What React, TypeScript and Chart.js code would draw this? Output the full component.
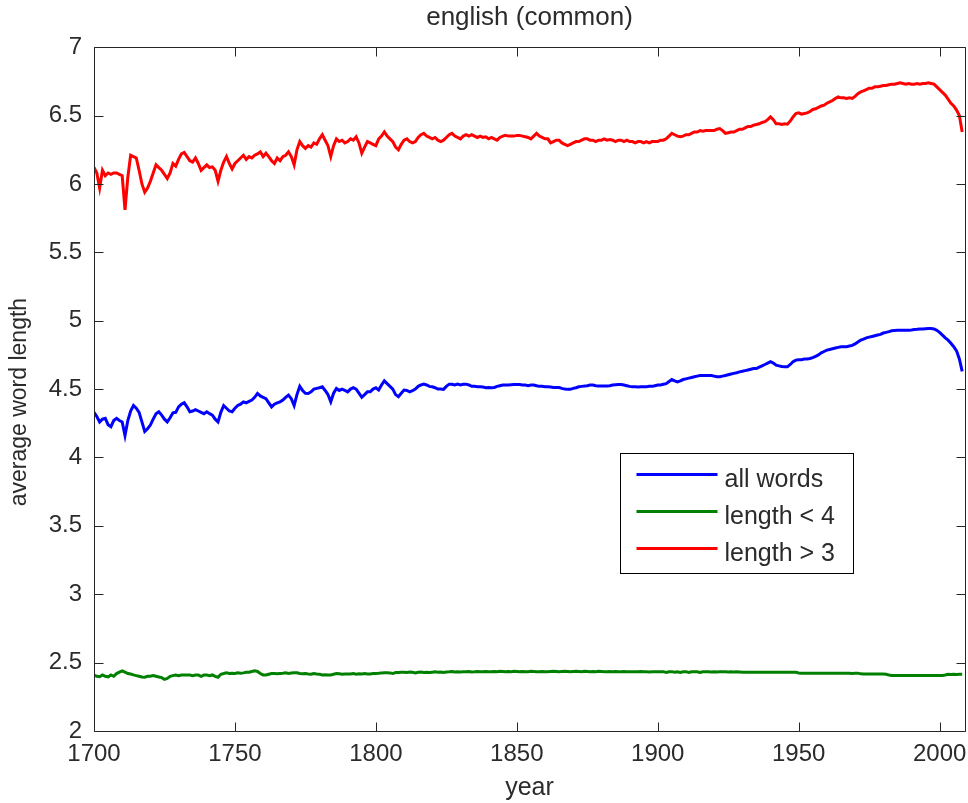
import React, { useEffect, useRef } from "react";
import { Chart, registerables } from "chart.js";

Chart.register(...registerables);

const FIRST_YEAR = 1700;

// average word length, all words (1700..2008)
const ALL_WORDS = [
  4.33, 4.30, 4.26, 4.28, 4.286, 4.24, 4.225, 4.27, 4.286, 4.27,
  4.26, 4.16, 4.27, 4.34, 4.38, 4.36, 4.33, 4.26, 4.19, 4.21,
  4.237, 4.28, 4.32, 4.334, 4.31, 4.28, 4.26, 4.29, 4.327, 4.33,
  4.37, 4.39, 4.40, 4.37, 4.334, 4.34, 4.35, 4.34, 4.33, 4.32,
  4.334, 4.32, 4.31, 4.28, 4.26, 4.33, 4.38, 4.36, 4.34, 4.334,
  4.36, 4.38, 4.39, 4.407, 4.40, 4.41, 4.42, 4.44, 4.468, 4.45,
  4.44, 4.43, 4.40, 4.37, 4.39, 4.40, 4.407, 4.42, 4.44, 4.456,
  4.43, 4.38, 4.46, 4.52, 4.49, 4.47, 4.468, 4.48, 4.50, 4.505,
  4.51, 4.517, 4.49, 4.46, 4.407, 4.47, 4.505, 4.49, 4.50, 4.49,
  4.48, 4.50, 4.51, 4.50, 4.47, 4.44, 4.46, 4.48, 4.48, 4.50,
  4.51, 4.493, 4.53, 4.56, 4.54, 4.52, 4.50, 4.46, 4.444, 4.47,
  4.493, 4.49, 4.48, 4.488, 4.50, 4.52, 4.53, 4.536, 4.53, 4.52,
  4.517, 4.51, 4.50, 4.50, 4.498, 4.52, 4.536, 4.535, 4.53, 4.536,
  4.53, 4.535, 4.536, 4.53, 4.52, 4.52, 4.517, 4.517, 4.515, 4.51,
  4.512, 4.51, 4.512, 4.52, 4.525, 4.53, 4.53, 4.53, 4.532, 4.533,
  4.534, 4.534, 4.53, 4.53, 4.525, 4.53, 4.53, 4.525, 4.52, 4.52,
  4.517, 4.517, 4.515, 4.512, 4.512, 4.512, 4.505, 4.50, 4.498, 4.498,
  4.505, 4.51, 4.517, 4.52, 4.522, 4.525, 4.53, 4.53, 4.525, 4.522,
  4.522, 4.522, 4.522, 4.525, 4.53, 4.532, 4.534, 4.534, 4.53, 4.525,
  4.52, 4.517, 4.517, 4.515, 4.517, 4.517, 4.517, 4.52, 4.52, 4.525,
  4.53, 4.53, 4.535, 4.54, 4.555, 4.57, 4.56, 4.553, 4.56, 4.57,
  4.575, 4.58, 4.585, 4.59, 4.595, 4.60, 4.60, 4.60, 4.60, 4.60,
  4.595, 4.59, 4.59, 4.595, 4.60, 4.605, 4.61, 4.615, 4.62, 4.626,
  4.63, 4.635, 4.64, 4.645, 4.65, 4.65, 4.66, 4.67, 4.68, 4.69,
  4.70, 4.69, 4.675, 4.67, 4.665, 4.663, 4.663, 4.68, 4.70, 4.712,
  4.715, 4.715, 4.72, 4.72, 4.724, 4.73, 4.74, 4.75, 4.765, 4.775,
  4.785, 4.79, 4.795, 4.80, 4.805, 4.81, 4.81, 4.81, 4.815, 4.82,
  4.83, 4.845, 4.858, 4.865, 4.875, 4.88, 4.885, 4.89, 4.895, 4.90,
  4.91, 4.915, 4.92, 4.926, 4.928, 4.93, 4.93, 4.93, 4.93, 4.93,
  4.932, 4.935, 4.937, 4.94, 4.94, 4.942, 4.943, 4.943, 4.94, 4.93,
  4.915, 4.895, 4.875, 4.858, 4.835, 4.81, 4.78, 4.72, 4.63,
];

// average word length, words shorter than 4 letters
const SHORT_WORDS = [
  2.409, 2.40, 2.397, 2.41, 2.40, 2.395, 2.41, 2.40, 2.42, 2.43,
  2.44, 2.43, 2.42, 2.417, 2.41, 2.405, 2.40, 2.395, 2.393, 2.40,
  2.40, 2.405, 2.40, 2.395, 2.39, 2.378, 2.385, 2.40, 2.405, 2.409,
  2.405, 2.41, 2.409, 2.41, 2.409, 2.405, 2.41, 2.409, 2.40, 2.409,
  2.409, 2.405, 2.41, 2.40, 2.393, 2.415, 2.42, 2.426, 2.42, 2.422,
  2.42, 2.425, 2.422, 2.425, 2.43, 2.43, 2.435, 2.44, 2.435, 2.42,
  2.41, 2.409, 2.415, 2.42, 2.42, 2.418, 2.42, 2.422, 2.425, 2.42,
  2.424, 2.426, 2.426, 2.42, 2.418, 2.42, 2.417, 2.415, 2.42, 2.417,
  2.415, 2.41, 2.412, 2.41, 2.409, 2.415, 2.42, 2.418, 2.415, 2.417,
  2.417, 2.417, 2.42, 2.415, 2.418, 2.417, 2.42, 2.417, 2.417, 2.42,
  2.42, 2.422, 2.425, 2.426, 2.426, 2.425, 2.42, 2.427, 2.428, 2.43,
  2.43, 2.428, 2.432, 2.43, 2.425, 2.43, 2.432, 2.428, 2.43, 2.427,
  2.43, 2.433, 2.43, 2.432, 2.428, 2.432, 2.433, 2.435, 2.432, 2.433,
  2.432, 2.434, 2.433, 2.435, 2.432, 2.433, 2.435, 2.434, 2.433, 2.435,
  2.434, 2.433, 2.435, 2.434, 2.436, 2.435, 2.433, 2.435, 2.434, 2.436,
  2.435, 2.433, 2.435, 2.434, 2.433, 2.436, 2.435, 2.434, 2.433, 2.435,
  2.434, 2.433, 2.435, 2.436, 2.435, 2.434, 2.435, 2.436, 2.435, 2.434,
  2.435, 2.436, 2.435, 2.434, 2.436, 2.435, 2.434, 2.435, 2.434, 2.436,
  2.435, 2.434, 2.433, 2.435, 2.434, 2.435, 2.433, 2.434, 2.435, 2.434,
  2.433, 2.434, 2.433, 2.434, 2.435, 2.434, 2.433, 2.432, 2.434, 2.433,
  2.434, 2.433, 2.434, 2.428, 2.433, 2.434, 2.429, 2.433, 2.428, 2.433,
  2.434, 2.428, 2.433, 2.434, 2.433, 2.428, 2.433, 2.434, 2.433, 2.432,
  2.433, 2.432, 2.433, 2.434, 2.433, 2.432, 2.433, 2.432, 2.433, 2.432,
  2.43, 2.43, 2.429, 2.43, 2.43, 2.429, 2.43, 2.429, 2.43, 2.429,
  2.43, 2.429, 2.43, 2.429, 2.43, 2.429, 2.43, 2.429, 2.43, 2.429,
  2.424, 2.423, 2.422, 2.423, 2.422, 2.423, 2.422, 2.423, 2.422, 2.423,
  2.422, 2.423, 2.422, 2.423, 2.422, 2.423, 2.422, 2.423, 2.422, 2.421,
  2.422, 2.423, 2.418, 2.417, 2.416, 2.417, 2.416, 2.417, 2.416, 2.417,
  2.416, 2.415, 2.41, 2.406, 2.405, 2.406, 2.405, 2.406, 2.405, 2.406,
  2.405, 2.406, 2.405, 2.406, 2.405, 2.406, 2.405, 2.406, 2.405, 2.406,
  2.405, 2.406, 2.41, 2.415, 2.414, 2.415, 2.414, 2.415, 2.415,
];

// average word length, words longer than 3 letters
const LONG_WORDS = [
  6.12, 6.08, 5.97, 6.10, 6.06, 6.08, 6.07, 6.08, 6.08, 6.07,
  6.06, 5.81, 6.05, 6.21, 6.20, 6.19, 6.10, 6.00, 5.94, 5.97,
  6.02, 6.08, 6.14, 6.12, 6.10, 6.07, 6.04, 6.08, 6.15, 6.13,
  6.18, 6.22, 6.23, 6.20, 6.17, 6.16, 6.19, 6.15, 6.10, 6.12,
  6.14, 6.12, 6.125, 6.10, 6.02, 6.10, 6.16, 6.20, 6.15, 6.11,
  6.15, 6.17, 6.19, 6.21, 6.18, 6.20, 6.19, 6.21, 6.22, 6.235,
  6.20, 6.225, 6.20, 6.17, 6.15, 6.19, 6.17, 6.20, 6.21, 6.235,
  6.20, 6.14, 6.25, 6.31, 6.28, 6.26, 6.28, 6.27, 6.30, 6.29,
  6.33, 6.36, 6.32, 6.28, 6.20, 6.28, 6.33, 6.31, 6.32, 6.30,
  6.31, 6.33, 6.32, 6.345, 6.30, 6.225, 6.27, 6.31, 6.30, 6.29,
  6.28, 6.33, 6.35, 6.38, 6.35, 6.33, 6.31, 6.27, 6.25, 6.29,
  6.32, 6.33, 6.31, 6.30, 6.31, 6.34, 6.36, 6.37, 6.35, 6.34,
  6.33, 6.34, 6.32, 6.31, 6.32, 6.34, 6.36, 6.37, 6.35, 6.34,
  6.33, 6.35, 6.36, 6.35, 6.36, 6.35, 6.34, 6.35, 6.34, 6.345,
  6.33, 6.34, 6.33, 6.32, 6.34, 6.35, 6.355, 6.35, 6.35, 6.35,
  6.355, 6.355, 6.35, 6.345, 6.34, 6.33, 6.35, 6.37, 6.35, 6.34,
  6.33, 6.33, 6.30, 6.31, 6.32, 6.32, 6.30, 6.29, 6.28, 6.29,
  6.30, 6.31, 6.31, 6.32, 6.33, 6.33, 6.32, 6.32, 6.31, 6.32,
  6.32, 6.33, 6.32, 6.325, 6.32, 6.31, 6.32, 6.32, 6.31, 6.32,
  6.31, 6.31, 6.30, 6.31, 6.31, 6.30, 6.31, 6.30, 6.31, 6.31,
  6.31, 6.32, 6.32, 6.33, 6.35, 6.37, 6.36, 6.35, 6.345, 6.35,
  6.36, 6.36, 6.37, 6.38, 6.38, 6.39, 6.385, 6.39, 6.39, 6.39,
  6.39, 6.40, 6.405, 6.39, 6.37, 6.375, 6.38, 6.38, 6.39, 6.40,
  6.40, 6.41, 6.42, 6.42, 6.43, 6.435, 6.44, 6.45, 6.455, 6.47,
  6.49, 6.47, 6.44, 6.44, 6.435, 6.44, 6.437, 6.46, 6.49, 6.515,
  6.52, 6.51, 6.515, 6.52, 6.53, 6.545, 6.55, 6.56, 6.57, 6.576,
  6.59, 6.60, 6.61, 6.625, 6.637, 6.63, 6.63, 6.625, 6.63, 6.625,
  6.64, 6.66, 6.673, 6.68, 6.69, 6.70, 6.70, 6.71, 6.71, 6.715,
  6.72, 6.72, 6.725, 6.73, 6.73, 6.735, 6.74, 6.735, 6.73, 6.735,
  6.73, 6.73, 6.735, 6.73, 6.735, 6.735, 6.74, 6.735, 6.73, 6.71,
  6.69, 6.67, 6.65, 6.62, 6.59, 6.57, 6.54, 6.50, 6.38,
];

const YEARS = ALL_WORDS.map((_, i) => FIRST_YEAR + i);

const SERIES_LABELS = ["all words", "length < 4", "length > 3"];
const SERIES_COLORS = ["#0000ff", "#008000", "#ff0000"];

const X_TICKS = [1700, 1750, 1800, 1850, 1900, 1950, 2000];
const Y_TICKS = [2, 2.5, 3, 3.5, 4, 4.5, 5, 5.5, 6, 6.5, 7];
const X_MIN = 1700;
const X_MAX = 2009;
const Y_MIN = 2;
const Y_MAX = 7;

const TITLE = "english (common)";
const X_TITLE = "year";
const Y_TITLE = "average word length";

const FONT = "'Liberation Sans', Arial, Helvetica, sans-serif";
const TEXT_COLOR = "#2b2b2b";
const AXIS_COLOR = "#262626";
const TICK_LEN = 9;

const matlabFrame = {
  id: "matlabFrame",
  afterDatasetsDraw(chart: any) {
    const { ctx, chartArea: a, scales } = chart;
    const xs = scales.x;
    const ys = scales.y;
    const L = Math.round(a.left) + 0.5;
    const R = Math.round(a.right) + 0.5;
    const T = Math.round(a.top) + 0.5;
    const B = Math.round(a.bottom) + 0.5;
    ctx.save();
    ctx.strokeStyle = AXIS_COLOR;
    ctx.lineWidth = 1;
    ctx.beginPath();
    ctx.moveTo(L, T);
    ctx.lineTo(R, T);
    ctx.lineTo(R, B);
    ctx.lineTo(L, B);
    ctx.closePath();
    for (const v of X_TICKS) {
      const px = Math.round(xs.getPixelForValue(v)) + 0.5;
      ctx.moveTo(px, B);
      ctx.lineTo(px, B - TICK_LEN);
      ctx.moveTo(px, T);
      ctx.lineTo(px, T + TICK_LEN);
    }
    for (const v of Y_TICKS) {
      const py = Math.round(ys.getPixelForValue(v)) + 0.5;
      ctx.moveTo(L, py);
      ctx.lineTo(L + TICK_LEN, py);
      ctx.moveTo(R, py);
      ctx.lineTo(R - TICK_LEN, py);
    }
    ctx.stroke();

    // y-axis label, rotated, left of the tick labels
    ctx.save();
    ctx.translate(a.left - 74, (a.top + a.bottom) / 2 + 13);
    ctx.rotate(-Math.PI / 2);
    ctx.font = `23px ${FONT}`;
    ctx.fillStyle = TEXT_COLOR;
    ctx.textAlign = "center";
    ctx.textBaseline = "middle";
    ctx.fillText(Y_TITLE, 0, 0);
    ctx.restore();

    // legend box (inside the axes, lower right)
    const bx = Math.round(a.left + 526) + 0.5;
    const by = Math.round(a.top + 406) + 0.5;
    const bw = 233;
    const bh = 120;
    ctx.fillStyle = "#ffffff";
    ctx.fillRect(bx, by, bw, bh);
    ctx.strokeStyle = "#000000";
    ctx.strokeRect(bx, by, bw, bh);
    ctx.font = `25px ${FONT}`;
    ctx.textAlign = "left";
    ctx.textBaseline = "alphabetic";
    chart.data.datasets.forEach((ds: any, i: number) => {
      const ly = by + 21 + i * 37;
      ctx.strokeStyle = ds.borderColor;
      ctx.lineWidth = 3;
      ctx.beginPath();
      ctx.moveTo(bx + 16, ly);
      ctx.lineTo(bx + 97, ly);
      ctx.stroke();
      ctx.fillStyle = TEXT_COLOR;
      ctx.fillText(ds.label, bx + 104, ly + 12);
    });
    ctx.restore();
  },
};

export default function App() {
  const ref = useRef<HTMLCanvasElement | null>(null);

  useEffect(() => {
    if (!ref.current) return;
    const series = [ALL_WORDS, SHORT_WORDS, LONG_WORDS];
    const chart = new Chart(ref.current, {
      type: "line",
      data: {
        datasets: series.map((vals, i) => ({
          label: SERIES_LABELS[i],
          data: vals.map((v, j) => ({ x: YEARS[j], y: v })),
          borderColor: SERIES_COLORS[i],
          backgroundColor: SERIES_COLORS[i],
          borderWidth: 3,
          pointRadius: 0,
          tension: 0,
          fill: false,
        })),
      },
      options: {
        responsive: false,
        animation: false,
        devicePixelRatio: 1,
        layout: { padding: { left: 0, right: 3, top: 0, bottom: 0 } },
        plugins: {
          legend: { display: false },
          tooltip: { enabled: false },
          title: {
            display: true,
            text: TITLE,
            fullSize: false,
            color: TEXT_COLOR,
            font: { family: FONT, size: 26, weight: "normal" },
            padding: { top: 2, bottom: 14 },
          },
        },
        scales: {
          x: {
            type: "linear",
            min: X_MIN,
            max: X_MAX,
            afterBuildTicks: (s: any) => {
              s.ticks = X_TICKS.map((v) => ({ value: v }));
            },
            afterFit: (s: any) => {
              s.height = 72;
              s.paddingRight = 3;
            },
            grid: { display: false, drawTicks: false },
            border: { display: false },
            ticks: {
              color: TEXT_COLOR,
              font: { family: FONT, size: 24 },
              padding: 9,
              maxRotation: 0,
              autoSkip: false,
              callback: (v: any) => String(v),
            },
            title: {
              display: true,
              text: X_TITLE,
              color: TEXT_COLOR,
              font: { family: FONT, size: 25 },
              padding: { top: 0, bottom: 0 },
            },
          },
          y: {
            type: "linear",
            min: Y_MIN,
            max: Y_MAX,
            afterBuildTicks: (s: any) => {
              s.ticks = Y_TICKS.map((v) => ({ value: v }));
            },
            afterFit: (s: any) => {
              s.width = 94;
            },
            grid: { display: false, drawTicks: false },
            border: { display: false },
            ticks: {
              color: TEXT_COLOR,
              font: { family: FONT, size: 24 },
              padding: 12,
              autoSkip: false,
              callback: (v: any) => String(v),
            },
            title: { display: false },
          },
        },
      },
      plugins: [matlabFrame],
    });
    return () => chart.destroy();
  }, []);

  return (
    <div
      style={{
        position: "fixed",
        left: 0,
        top: 0,
        width: 968,
        height: 803,
        background: "#ffffff",
      }}
    >
      <canvas ref={ref} width={968} height={803} style={{ width: 968, height: 803, display: "block" }} />
    </div>
  );
}
